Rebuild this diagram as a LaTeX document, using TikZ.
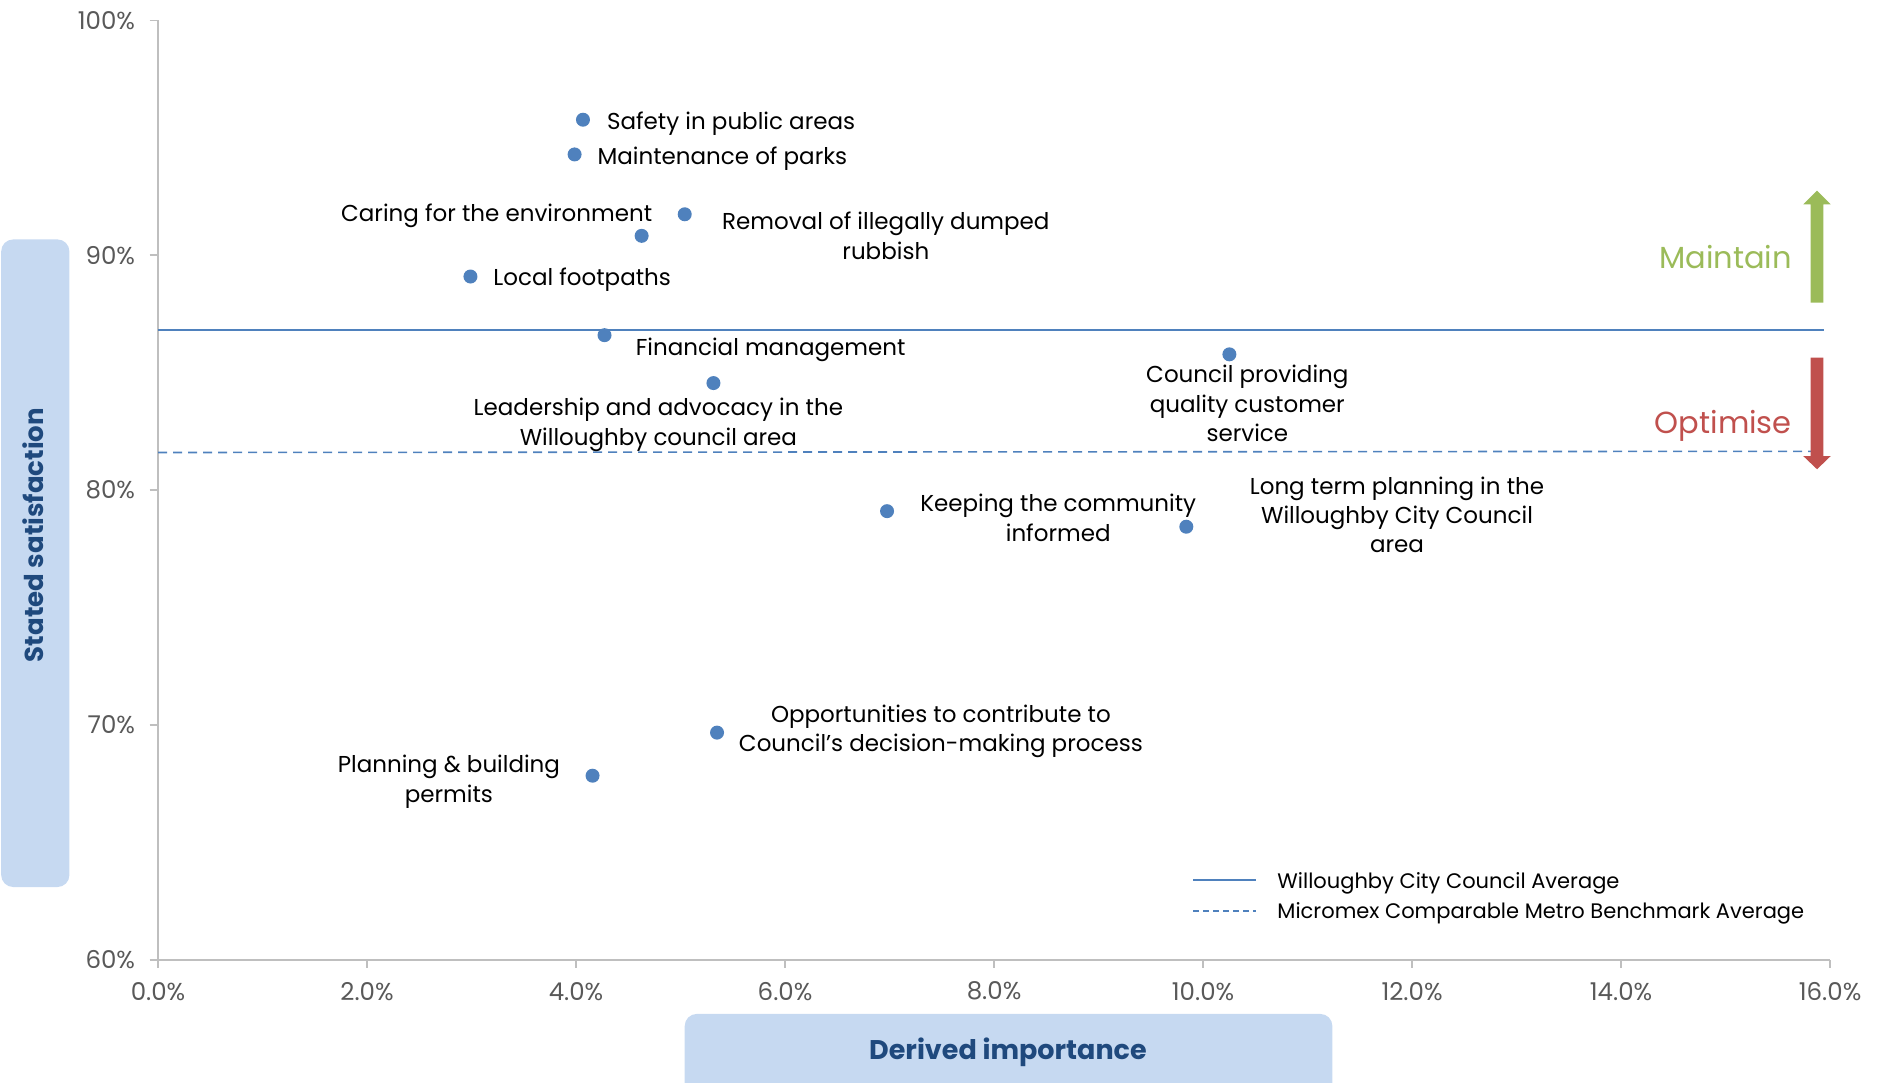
\documentclass[tikz,border=0pt]{standalone}
\usepackage{fontspec}
\setmainfont{Poppins}
\definecolor{dotblue}{HTML}{4F81BD}
\definecolor{axisgray}{HTML}{BFBFBF}
\definecolor{ticktext}{HTML}{595959}
\definecolor{boxblue}{HTML}{C6D9F1}
\definecolor{titleblue}{HTML}{1F497D}
\definecolor{mgreen}{HTML}{9BBB59}
\definecolor{ored}{HTML}{C0504D}
\tikzset{
  dot/.style={circle, fill=dotblue, inner sep=0pt, minimum size=14pt},
  mlbl/.style={font=\fontsize{23}{29.3}\selectfont, text=black, inner sep=0pt, align=center},
  lbl/.style={mlbl, yshift=-3pt},
  ticklbl/.style={font=\fontsize{24.5}{28}\selectfont, text=ticktext, inner sep=0pt},
  axisline/.style={draw=axisgray, line width=1.6pt},
  avgline/.style={draw=dotblue, line width=1.6pt},
  benchline/.style={draw=dotblue, line width=1.6pt, dash pattern=on 9pt off 6pt},
  legtext/.style={font=\fontsize{21}{24}\selectfont, text=black, inner sep=0pt, anchor=west, yshift=-2.4pt},
  axtitle/.style={font=\bfseries\fontsize{27}{30}\selectfont, text=titleblue, inner sep=0pt},
  bigword/.style={font=\fontsize{30.5}{34}\selectfont, inner sep=0pt, anchor=base east}
}
\begin{document}
\begin{tikzpicture}[x=1.19707pt, y=-1.19707pt]
\useasboundingbox (0,0) rectangle (1568,904);
% axis title boxes
\fill[boxblue, rounded corners=12pt] (1,200) rectangle (58,741);
\node[axtitle, font=\bfseries\fontsize{26}{30}\selectfont, rotate=90] (ytitle) at (28,447) {Stated satisfaction};
\fill[boxblue, rounded corners=12pt] (572,847) rectangle (1113,930);
\node[axtitle, yshift=-2.4pt] (xtitle) at (842,877) {Derived importance};
% axes
\coordinate (o) at (132,802);
\coordinate (ytop) at (132,17);
\coordinate (xend) at (1529,802);
\draw[axisline] (ytop) -- (o) -- (xend);
\foreach \i/\lab in {0/60\%,1/70\%,2/80\%,3/90\%,4/100\%}{
  \draw[axisline] (125,{802-196.25*\i}) -- (132,{802-196.25*\i});
  \node[ticklbl, anchor=east] (yl\i) at (113,{802-196.25*\i}) {\lab};
}
\foreach \i/\lab in {0/0.0\%,1/2.0\%,2/4.0\%,3/6.0\%,4/8.0\%,5/10.0\%,6/12.0\%,7/14.0\%,8/16.0\%}{
  \draw[axisline] ({132+174.6*\i},802) -- ({132+174.6*\i},809);
  \node[ticklbl] (xl\i) at ({132+174.6*\i},828) {\lab};
}
% reference lines
\coordinate (avgL) at (132,275.5);
\coordinate (avgR) at (1524,275.5);
\draw[avgline] (avgL) -- (avgR);
\coordinate (bmL) at (132,378);
\coordinate (bmR) at (1517,377);
\draw[benchline] (bmL) -- (bmR);
% maintain / optimise arrows
\fill[mgreen] (1512.6,252.8) -- (1512.6,170.7) -- (1506.4,170.7) -- (1517.9,159.3) -- (1529.3,170.7) -- (1523.2,170.7) -- (1523.2,252.8) -- cycle;
\fill[ored] (1512.6,298.8) -- (1512.6,381) -- (1506.4,381) -- (1517.9,392) -- (1529.3,381) -- (1523.2,381) -- (1523.2,298.8) -- cycle;
\node[bigword, text=mgreen] (maintain) at (1497,224) {Maintain};
\node[bigword, text=ored] (optimise) at (1497,362) {Optimise};
% data points
\node[dot] (p1) at (487,100) {};
\node[lbl, anchor=west] (l1) at (507,101) {Safety in public areas};
\node[dot] (p2) at (480,129) {};
\node[lbl, anchor=west] (l2) at (499,130) {Maintenance of parks};
\node[dot] (p3) at (536,197) {};
\node[lbl, anchor=east] (l3) at (545,178) {Caring for the environment};
\node[dot] (p4) at (572,179) {};
\node[mlbl] (l4) at (740,197) {Removal of illegally dumped\\rubbish};
\node[dot] (p5) at (393,231) {};
\node[lbl, anchor=west] (l5) at (412,231) {Local footpaths};
\node[dot] (p6) at (505,280) {};
\node[lbl, anchor=west] (l6) at (531,290) {Financial management};
\node[dot] (p7) at (596,320) {};
\node[mlbl] (l7) at (550,355) {Leadership and advocacy in the\\Willoughby council area};
\node[dot] (p8) at (1027,296) {};
\node[mlbl] (l8) at (1042,337) {Council providing\\quality customer\\service};
\node[dot] (p9) at (741,427) {};
\node[mlbl] (l9) at (884,432.5) {Keeping the community\\informed};
\node[dot] (p10) at (991,440) {};
\node[mlbl] (l10) at (1167,430) {Long term planning in the\\Willoughby City Council\\area};
\node[dot] (p11) at (599,612) {};
\node[mlbl] (l11) at (786,611) {Opportunities to contribute to\\Council’s decision-making process};
\node[dot] (p12) at (495,648) {};
\node[mlbl] (l12) at (375,653) {Planning \& building\\permits};
% legend
\coordinate (lg1a) at (997,735);
\coordinate (lg1b) at (1049,735);
\draw[avgline] (lg1a) -- (lg1b);
\node[legtext] (lgt1) at (1067,736) {Willoughby City Council Average};
\coordinate (lg2a) at (997,761);
\coordinate (lg2b) at (1049,761);
\draw[benchline, dash pattern=on 6pt off 4pt] (lg2a) -- (lg2b);
\node[legtext] (lgt2) at (1067,761) {Micromex Comparable Metro Benchmark Average};
\end{tikzpicture}
\end{document}
